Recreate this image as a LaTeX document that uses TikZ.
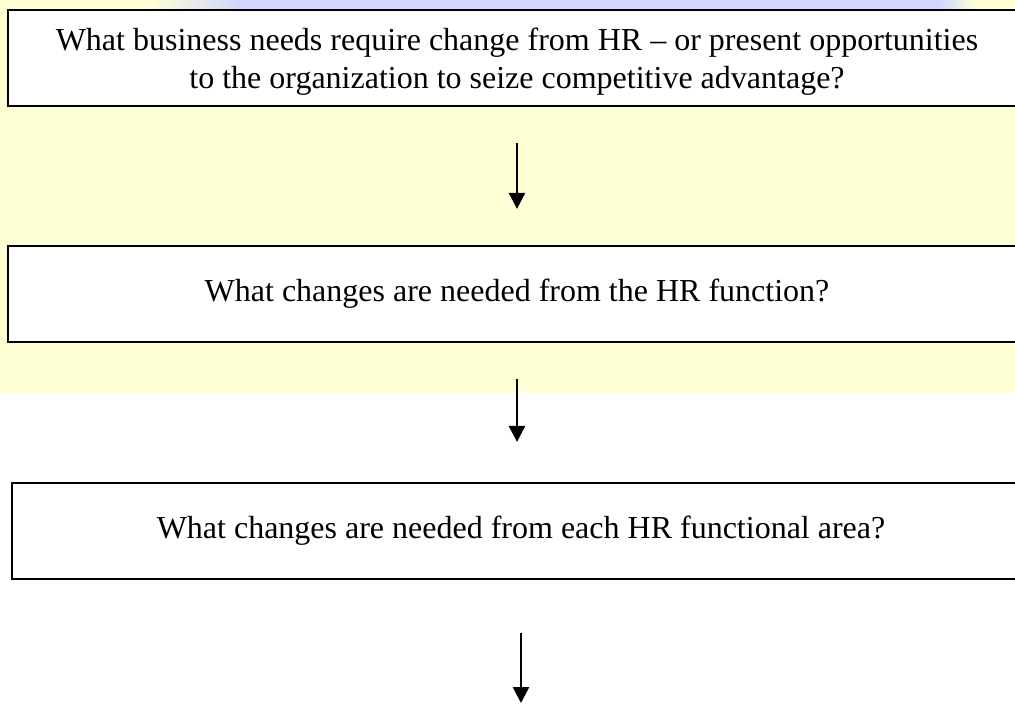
\documentclass[tikz,border=0pt]{standalone}
\usepackage{fontspec}
\setmainfont{Liberation Serif}
\usetikzlibrary{arrows.meta,calc}

\definecolor{slideyellow}{RGB}{255,255,214}
\definecolor{slideblue}{RGB}{208,214,255}

\tikzset{
  question/.style={draw, line width=2.2pt, fill=white, inner sep=0pt,
    minimum width=1018pt, minimum height=96pt, align=center,
    font=\fontsize{32}{38}\selectfont},
  flow/.style={->, line width=2.6pt}
}

\begin{document}
\begin{tikzpicture}[x=1pt, y=-1pt, >={Triangle[length=16pt,width=16pt]}]

	\clip (0,0) rectangle (1015,704);
	% slide background
	\fill [slideyellow] (0,0) rectangle (1015,393);
	\shade [left color=slideyellow, right color=slideblue] (150,0) rectangle (240,9);
	\fill [slideblue] (240,0) rectangle (940,9);
	\shade [left color=slideblue, right color=slideyellow] (940,0) rectangle (975,9);

	\node [question] (business) at (517,58)
	{\rule{0pt}{29pt}What business needs require change from HR -- or present opportunities\\
	 to the organization to seize competitive advantage?};
	\node [question] (hrfunction) at (517,294)
	{What changes are needed from the HR function?};
	\node [question] (hrarea) at (521,531)
	{What changes are needed from each HR functional area?};

	\coordinate (next) at (521,703);

	\draw [flow, shorten <=36pt, shorten >=36pt] (business) -- (hrfunction);
	\draw [flow, shorten <=36pt, shorten >=40pt] (hrfunction.south) -- (hrfunction.south |- hrarea.north);
	\draw [flow, shorten <=53pt] (hrarea.south) -- (next);

\end{tikzpicture}
\end{document}
